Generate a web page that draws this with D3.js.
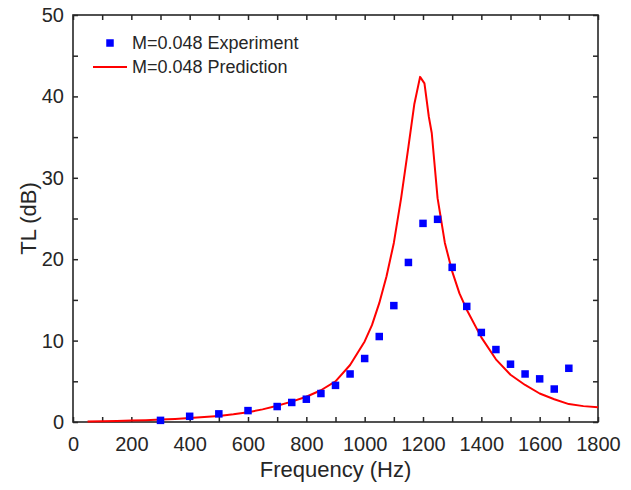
<!DOCTYPE html>
<html>
  <head>
    <meta charset="utf-8">
    <style type="text/css">
      body { margin: 0; background: #fff; }
      text { font-family: "Liberation Sans", Arial, Helvetica, sans-serif; fill: #262626; }
      .axis line { stroke: #262626; stroke-width: 1.5; }
      .axis .domain { display: none; }
    </style>
  </head>
  <body>
    <script src="https://d3js.org/d3.v7.min.js"></script>
    <script>
      // measured points
      var expFreq = [300, 400, 500, 600, 700, 750, 800, 850, 900, 950, 1000, 1050, 1100,
                     1150, 1200, 1250, 1300, 1350, 1400, 1450, 1500, 1550, 1600, 1650, 1700];
      var expTL = [0.2, 0.7, 1.0, 1.4, 1.9, 2.4, 2.8, 3.5, 4.5, 5.9, 7.8, 10.5, 14.3,
                   19.6, 24.4, 24.9, 19.0, 14.2, 11.0, 8.9, 7.1, 5.9, 5.3, 4.05, 6.6];

      // predicted curve
      var predFreq = [50, 100, 150, 200, 250, 300, 350, 400, 450, 500, 550, 600, 650, 700,
                      750, 800, 850, 900, 950, 1000, 1025, 1050, 1075, 1100, 1125, 1150,
                      1170, 1190, 1205, 1220, 1230, 1250, 1275, 1300, 1325, 1350, 1400,
                      1450, 1500, 1550, 1600, 1650, 1700, 1750, 1800];
      var predTL = [0.05, 0.08, 0.12, 0.17, 0.22, 0.3, 0.38, 0.48, 0.6, 0.75, 0.95, 1.2, 1.55, 2.0,
                    2.5, 3.1, 3.9, 5.0, 7.0, 9.9, 11.9, 14.6, 17.9, 22.0, 27.5, 33.8,
                    39.0, 42.4, 41.6, 37.5, 35.5, 27.5, 22.0, 18.5, 15.8, 13.8, 10.4,
                    7.7, 5.8, 4.55, 3.5, 2.8, 2.2, 1.95, 1.8];

      var xTicks = d3.range(0, 1801, 100);
      var yTicks = d3.range(0, 51, 5);
      var legendLabels = ["M=0.048 Experiment", "M=0.048 Prediction"];

      var width = 631, height = 490;
      var mLeft = 73, mRight = 598, mTop = 15, mBottom = 422;

      var svg = d3.select("body").append("svg")
          .attr("width", width)
          .attr("height", height);

      var x = d3.scaleLinear().domain([0, 1800]).range([mLeft, mRight]);
      var y = d3.scaleLinear().domain([0, 50]).range([mBottom, mTop]);

      var fmtX = function(d) { return d % 200 === 0 ? d : ""; };
      var fmtY = function(d) { return d % 10 === 0 ? d : ""; };

      svg.append("g").attr("class", "axis")
          .attr("transform", "translate(0," + mBottom + ")")
          .call(d3.axisBottom(x).tickValues(xTicks).tickFormat(fmtX).tickSizeInner(-5).tickSizeOuter(0).tickPadding(15))
          .selectAll("text").style("font-size", "20px");

      svg.append("g").attr("class", "axis")
          .attr("transform", "translate(0," + mTop + ")")
          .call(d3.axisTop(x).tickValues(xTicks).tickFormat("").tickSizeInner(-5).tickSizeOuter(0));

      svg.append("g").attr("class", "axis")
          .attr("transform", "translate(" + mLeft + ",0)")
          .call(d3.axisLeft(y).tickValues(yTicks).tickFormat(fmtY).tickSizeInner(-5).tickSizeOuter(0).tickPadding(9))
          .selectAll("text").style("font-size", "20px");

      svg.append("g").attr("class", "axis")
          .attr("transform", "translate(" + mRight + ",0)")
          .call(d3.axisRight(y).tickValues(yTicks).tickFormat("").tickSizeInner(-5).tickSizeOuter(0));

      svg.selectAll(".axis text").attr("fill", "#262626");

      // box
      svg.append("rect")
          .attr("x", mLeft).attr("y", mTop)
          .attr("width", mRight - mLeft).attr("height", mBottom - mTop)
          .attr("fill", "none")
          .attr("stroke", "#262626")
          .attr("stroke-width", 1.6);

      var line = d3.line()
          .x(function(d, i) { return x(predFreq[i]); })
          .y(function(d) { return y(d); });

      svg.append("path")
          .datum(predTL)
          .attr("d", line)
          .attr("fill", "none")
          .attr("stroke", "#ff0000")
          .attr("stroke-width", 2)
          .attr("stroke-linejoin", "round");

      var ms = 7.5;
      svg.append("g").selectAll("rect")
          .data(expTL)
        .enter().append("rect")
          .attr("x", function(d, i) { return x(expFreq[i]) - ms / 2; })
          .attr("y", function(d) { return y(d) - ms / 2; })
          .attr("width", ms).attr("height", ms)
          .attr("fill", "#0000ff");

      // axis labels
      svg.append("text")
          .attr("x", (mLeft + mRight) / 2).attr("y", 477)
          .attr("text-anchor", "middle")
          .style("font-size", "22px")
          .text("Frequency (Hz)");

      svg.append("text")
          .attr("transform", "translate(36," + (mTop + mBottom) / 2 + ") rotate(-90)")
          .attr("text-anchor", "middle")
          .style("font-size", "22px")
          .text("TL (dB)");

      // legend
      var lg = svg.append("g");
      lg.append("rect")
          .attr("x", 110 - ms / 2).attr("y", 43 - ms / 2)
          .attr("width", ms).attr("height", ms)
          .attr("fill", "#0000ff");
      lg.append("line")
          .attr("x1", 93).attr("x2", 127)
          .attr("y1", 67).attr("y2", 67)
          .attr("stroke", "#ff0000").attr("stroke-width", 2);
      lg.selectAll("text.leg")
          .data(legendLabels)
        .enter().append("text")
          .attr("class", "leg")
          .attr("x", 132)
          .attr("y", function(d, i) { return 43 + i * 24; })
          .attr("dy", "0.35em")
          .style("font-size", "18px")
          .text(function(d) { return d; });
    </script>
  </body>
</html>
